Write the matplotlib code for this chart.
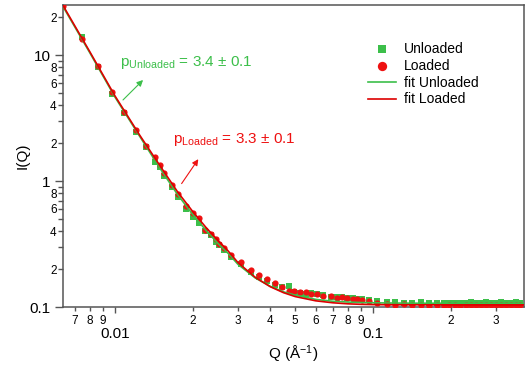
import matplotlib
matplotlib.use("Agg")
import matplotlib.pyplot as plt
from matplotlib.ticker import FixedLocator, FixedFormatter

plt.rcParams['font.family'] = ['Liberation Sans', 'DejaVu Sans']
plt.rcParams['mathtext.fontset'] = 'custom'
plt.rcParams['mathtext.rm'] = 'Liberation Sans'
plt.rcParams['mathtext.it'] = 'Liberation Sans:italic'

# measured points (Q in 1/A)
q_data = [0.00629, 0.00745, 0.00859, 0.00973, 0.01084, 0.01206, 0.01319, 0.01429,
          0.01494, 0.01549, 0.01663, 0.01754, 0.01884, 0.02006, 0.02116, 0.02234,
          0.02356, 0.02463, 0.02529, 0.02645, 0.02815, 0.03080, 0.03366, 0.03615,
          0.03882, 0.04169, 0.0445, 0.0472, 0.0494, 0.0521, 0.0550, 0.0578,
          0.0607, 0.0640, 0.0687, 0.0725, 0.0760, 0.0793, 0.0836, 0.0870,
          0.0906, 0.0964,
          0.104, 0.113, 0.122, 0.132, 0.142, 0.153, 0.165, 0.177, 0.188, 0.198,
          0.208, 0.218, 0.229, 0.240, 0.251, 0.263, 0.275, 0.288, 0.301, 0.314,
          0.328, 0.342, 0.357, 0.372]

i_unloaded = [24.0, 14.0, 8.0, 4.95, 3.45, 2.45, 1.85, 1.42, 1.30, 1.10, 0.90, 0.75,
              0.60, 0.52, 0.465, 0.40, 0.37, 0.33, 0.31, 0.283, 0.25, 0.22, 0.19,
              0.172, 0.160, 0.150, 0.143, 0.147, 0.132, 0.130, 0.128, 0.129, 0.126,
              0.124, 0.121, 0.120, 0.119, 0.118, 0.117, 0.116, 0.115, 0.113,
              0.111, 0.110, 0.109, 0.108, 0.108, 0.109, 0.108, 0.107, 0.108, 0.108,
              0.107, 0.108, 0.108, 0.109, 0.108, 0.108, 0.109, 0.108, 0.108, 0.109,
              0.108, 0.108, 0.109, 0.108]

i_loaded = [24.5, 13.4, 8.18, 5.08, 3.53, 2.52, 1.90, 1.55, 1.33, 1.16, 0.93, 0.79,
            0.63, 0.557, 0.509, 0.408, 0.380, 0.346, 0.316, 0.295, 0.259, 0.228,
            0.197, 0.180, 0.167, 0.155, 0.145, 0.134, 0.134, 0.132, 0.131, 0.128,
            0.127, 0.122, 0.122, 0.118, 0.119, 0.118, 0.116, 0.116, 0.114, 0.112,
            0.108, 0.106, 0.104, 0.105, 0.103, 0.104, 0.102, 0.104, 0.101, 0.103,
            0.104, 0.102, 0.103, 0.104, 0.103, 0.104, 0.103, 0.104, 0.104, 0.103,
            0.104, 0.104, 0.103, 0.104]

# fit curves
q_fit = [0.00629, 0.008, 0.01, 0.0125, 0.015, 0.0175, 0.02, 0.0225, 0.025, 0.0275,
         0.03, 0.035, 0.04, 0.045, 0.05, 0.06, 0.07, 0.08, 0.09, 0.1, 0.12, 0.15,
         0.2, 0.3, 0.385]
fit_unloaded = [24.3, 10.4, 4.65, 2.25, 1.25, 0.78, 0.545, 0.408, 0.322, 0.266,
                0.218, 0.170, 0.146, 0.132, 0.124, 0.115, 0.111, 0.1095, 0.1085,
                0.108, 0.1075, 0.1072, 0.1071, 0.107, 0.107]
fit_loaded = [24.8, 10.6, 4.75, 2.3, 1.31, 0.82, 0.575, 0.43, 0.34, 0.278,
              0.225, 0.172, 0.145, 0.130, 0.121, 0.112, 0.108, 0.106, 0.105,
              0.1045, 0.1042, 0.1041, 0.104, 0.104, 0.104]

x_major = [0.01, 0.1]
x_major_labels = ['0.01', '0.1']
x_minor = [0.007, 0.008, 0.009, 0.02, 0.03, 0.04, 0.05, 0.06, 0.07, 0.08, 0.09, 0.2, 0.3]
x_minor_labels = ['7', '8', '9', '2', '3', '4', '5', '6', '7', '8', '9', '2', '3']
y_major = [0.1, 1, 10]
y_major_labels = ['0.1', '1', '10']
y_minor = [0.2, 0.3, 0.4, 0.5, 0.6, 0.7, 0.8, 0.9, 2, 3, 4, 5, 6, 7, 8, 9, 20]
y_minor_labels = ['2', '', '4', '', '6', '', '8', '', '2', '', '4', '', '6', '', '8', '', '2']

green = '#3cbf4a'
red = '#ee1111'

fig = plt.figure(figsize=(5.29, 3.72), dpi=100)
ax = fig.add_axes([0.119, 0.1747, 0.8715, 0.812])

ax.scatter(q_data, i_unloaded, marker='s', s=18, color=green, lw=0, label='Unloaded', zorder=3)
ax.scatter(q_data, i_loaded, marker='o', s=20, color=red, lw=0, label='Loaded', zorder=3)
ax.plot(q_fit, fit_unloaded, color=green, lw=1.2, label='fit Unloaded', zorder=4)
ax.plot(q_fit, fit_loaded, color='#dd0000', lw=1.2, label='fit Loaded', zorder=4)

ax.set_xscale('log')
ax.set_yscale('log')
ax.set_xlim(0.00629, 0.385)
ax.set_ylim(0.1, 25)

ax.xaxis.set_major_locator(FixedLocator(x_major))
ax.xaxis.set_major_formatter(FixedFormatter(x_major_labels))
ax.xaxis.set_minor_locator(FixedLocator(x_minor))
ax.xaxis.set_minor_formatter(FixedFormatter(x_minor_labels))
ax.yaxis.set_major_locator(FixedLocator(y_major))
ax.yaxis.set_major_formatter(FixedFormatter(y_major_labels))
ax.yaxis.set_minor_locator(FixedLocator(y_minor))
ax.yaxis.set_minor_formatter(FixedFormatter(y_minor_labels))

spine_c = '#555555'
for s in ax.spines.values():
    s.set_color(spine_c)
    s.set_linewidth(1.1)

ax.tick_params(axis='x', which='major', length=4.5, width=1, color=spine_c, labelsize=11, pad=10)
ax.tick_params(axis='x', which='minor', length=3, width=1, color=spine_c, labelsize=8.5, pad=2.5)
ax.tick_params(axis='y', which='major', length=6, width=1, color=spine_c, labelsize=11, pad=3)
ax.tick_params(axis='y', which='minor', length=3.5, width=1, color=spine_c, labelsize=8.5, pad=1)

ax.set_xlabel(r'Q (Å$^{-1}$)', fontsize=11, labelpad=2)
ax.set_ylabel('I(Q)', fontsize=11, labelpad=0)

ax.text(0.124, 0.808, r'p$_{\mathregular{Unloaded}}$ = 3.4 ± 0.1', transform=ax.transAxes,
        color=green, fontsize=11, va='center', ha='left')
ax.annotate('', xy=(0.178, 0.758), xytext=(0.126, 0.679), xycoords='axes fraction',
            arrowprops=dict(arrowstyle='-|>', color=green, lw=0.8, mutation_scale=9))
ax.text(0.239, 0.553, r'p$_{\mathregular{Loaded}}$ = 3.3 ± 0.1', transform=ax.transAxes,
        color=red, fontsize=11, va='center', ha='left')
ax.annotate('', xy=(0.297, 0.497), xytext=(0.254, 0.401), xycoords='axes fraction',
            arrowprops=dict(arrowstyle='-|>', color=red, lw=0.8, mutation_scale=9))

ax.legend(loc='upper left', bbox_to_anchor=(0.647, 0.9), frameon=False, fontsize=10,
          handlelength=2.0, handletextpad=0.6, labelspacing=0.2, borderpad=0,
          markerscale=1.5)

fig.savefig('out.png', dpi=100)
